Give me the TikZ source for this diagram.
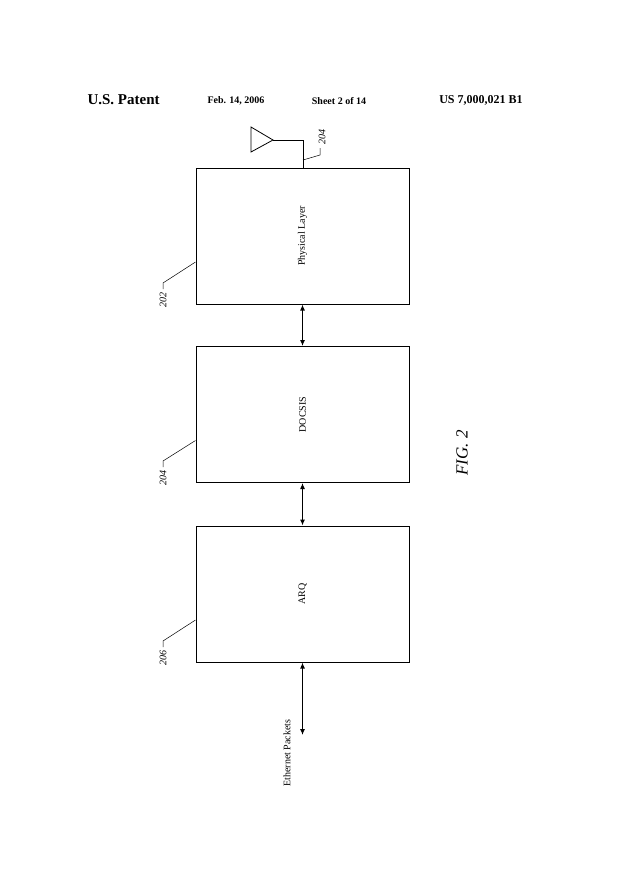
\documentclass[tikz,border=0pt]{standalone}
\usepackage{fontspec}
\setmainfont{Liberation Serif}
\usetikzlibrary{arrows.meta}
\begin{document}
\begin{tikzpicture}[x=1pt,y=-1pt,
 box/.style={draw,line width=1pt,minimum width=213pt,minimum height=136pt,inner sep=0},
 lbl/.style={rotate=90,font=\fontsize{10}{11}\selectfont},
 ref/.style={rotate=90,font=\itshape\fontsize{10}{11}\selectfont},
 arr/.style={{Latex[length=6pt,width=5pt]}-{Latex[length=6pt,width=5pt]},line width=1.1pt},
 lead/.style={line width=0.5pt}]
\useasboundingbox (0,0) rectangle (625,884);
\node[font=\bfseries\fontsize{15}{16}\selectfont,anchor=west] (h1) at (84,100) {U.S. Patent};
\node[font=\bfseries\fontsize{10}{12}\selectfont] (h2) at (236,101) {Feb. 14, 2006};
\node[font=\bfseries\fontsize{10}{12}\selectfont] (h3) at (339,101) {Sheet 2 of 14};
\node[font=\bfseries\fontsize{12}{14}\selectfont] (h4) at (481,100) {US 7,000,021 B1};
\node[box] (phy) at (302.5,236) {};
\node[lbl] at (phy) {Physical Layer};
\node[box] (doc) at (302.5,414.5) {};
\node[lbl] at (doc) {DOCSIS};
\node[box] (arq) at (302.5,594) {};
\node[lbl] at (arq) {ARQ};
\draw[arr] (phy.south) -- (doc.north);
\draw[arr] (doc.south) -- (arq.north);
\coordinate (eth) at (302.5,735);
\draw[arr] (arq.south) -- (eth);
\node[lbl,anchor=east] at (287,716) {Ethernet Packets};
\node[font=\itshape\fontsize{17}{18}\selectfont,rotate=90] (fig) at (462,453) {FIG. 2};
% antenna
\coordinate (tip) at (273,140);
\draw[line width=0.8pt] (251,127) -- (tip) -- (251,152) -- cycle;
\coordinate (ant) at (303,140);
\draw[line width=0.8pt] (tip) -- (ant) -- (ant|-phy.north);
\draw[lead] (303,160) -- (320,155) -- (320,148);
\node[ref,anchor=west] at (322,148) {204};
% leaders
\draw[lead] (phy.west) ++(0,26) -- (163,283) -- (163,289);
\node[ref,anchor=east] at (163,289) {202};
\draw[lead] (doc.west) ++(0,26) -- (163,461) -- (163,467);
\node[ref,anchor=east] at (163,467) {204};
\draw[lead] (arq.west) ++(0,26) -- (163,641) -- (163,647);
\node[ref,anchor=east] at (163,647) {206};
\end{tikzpicture}
\end{document}
